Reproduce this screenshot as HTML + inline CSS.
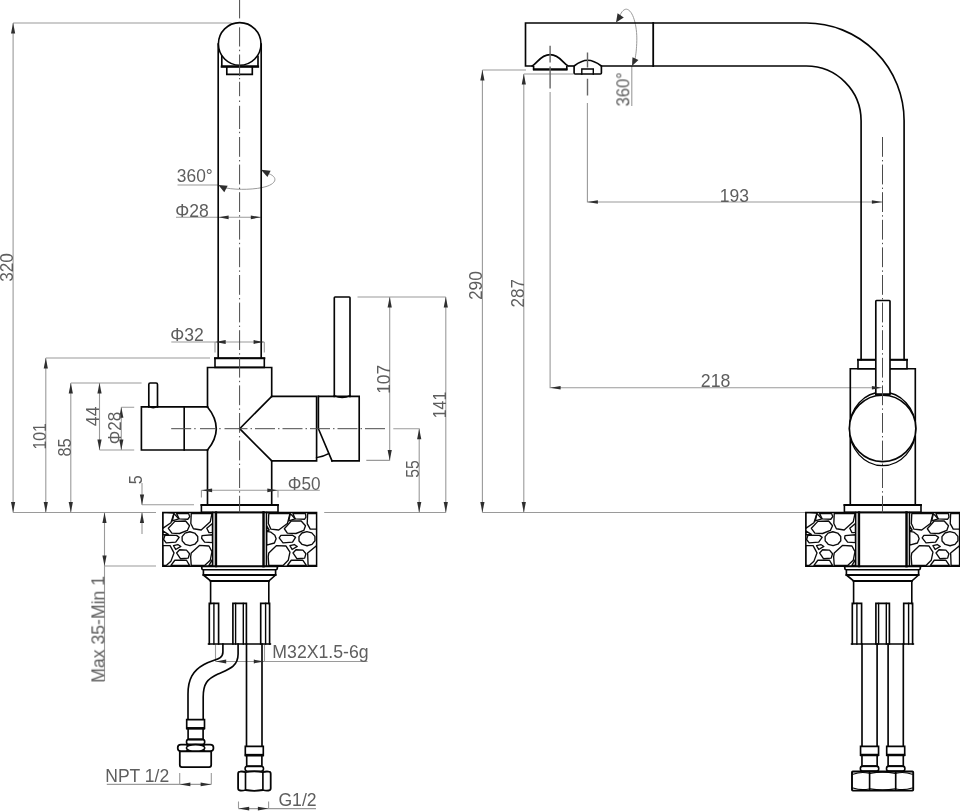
<!DOCTYPE html>
<html lang="en">
<head>
<meta charset="utf-8">
<title>Faucet dimension drawing</title>
<style>
html,body{margin:0;padding:0;background:#fff;}
body{width:960px;height:811px;overflow:hidden;}
svg{display:block;}
</style>
</head>
<body>
<svg width="960" height="811" viewBox="0 0 960 811">
<rect width="960" height="811" fill="#fff"/>
<g fill="none" stroke="#9a9a9a" stroke-width="1.1">
<path d="M13.1,23 V512.5 M13.1,23 H231.5"/>
<path d="M13.1,512.5 H156"/>
<path d="M45.8,358 V512.5 M45.8,358 H210"/>
<path d="M70.8,383 V512.5 M70.8,383 H141.6"/>
<path d="M99.5,383 V450 M99.5,450 H134.2"/>
<path d="M121.3,407.2 V450 M121.3,407.2 H134.2"/>
<path d="M142,483 V505 M142,504.8 H194 M142,512.5 V534"/>
<path d="M104.5,512.5 V681 M104.5,566 H156"/>
<path d="M177.5,185 H218"/>
<path d="M226,188 C238,190.2 256,189.6 266,186.6 C277,183.2 277.6,177 269,173.8" stroke-width="1"/>
<path d="M176,217.3 H261"/>
<path d="M171.3,342 H264.3 M215,342 V352.6 M264.3,342 V352.6"/>
<path d="M201.4,490.3 H319.8 M201.4,490.3 V497.6 M278,490.3 V497.6"/>
<path d="M357.5,297 H445.8 M389.7,297 V460.4 M366.3,460.4 H389.7 M445.8,297 V512.5 M393.3,428.7 H419.2 V512.5 M324.2,512.5 H445.8"/>
<path d="M215.5,644.6 V661.5 M264.5,644.6 V661.5 M215.5,661.5 H367.5"/>
<path d="M106.8,784.4 H211.3 M179.7,773 V784.4 M211.3,773 V784.4"/>
<path d="M238.5,808.6 H316 M238.5,801.4 V808.6 M268.6,801.4 V808.6"/>
<path d="M482.4,70 V512.5 M482.4,70 H526 M523.8,74 V512.5 M523.8,74 H573.4 M482.4,512.5 H805.8"/>
<path d="M550.1,92 V387.7 H882 M587.4,103 V202 H882"/>
<path d="M631.8,66 V106"/>
<path d="M619.6,16.6 C621.5,11 624.5,9 626.5,9.2 C633,10 637.2,26 636.8,40.7 C636.6,49 636,54 635,59" stroke-width="1"/>
</g>
<defs><clipPath id="cl"><rect x="162.8" y="512.4" width="50" height="53.8"/><rect x="266.2" y="512.4" width="50.4" height="53.8"/></clipPath></defs>
<g fill="none" stroke="#0c0c0c" stroke-width="1.35" stroke-linejoin="round" clip-path="url(#cl)">
<g transform="translate(0 0)">
<polygon points="162.75,512.34 173.98,513.2 170.95,522.7 162.75,528.32"/>
<polygon points="173.98,513.64 178.73,518.82 172.25,520.98"/>
<polygon points="176.57,513.64 188.66,513.64 189.78,516.66 187.79,519.25 179.16,518.82"/>
<polygon points="168.36,528.32 174.84,521.41 185.63,520.98 189.52,525.73 187.36,530.47 179.59,533.5 171.82,533.07"/>
<polygon points="191.25,513.64 211.97,513.64 210.25,521.84 201.18,530.04 193.41,528.75 190.82,523.57"/>
<polygon points="206.79,528.32 212.4,523.57 212.4,532.63 208.95,532.63"/>
<polygon points="197.79,540.72 194.87,544.21 190.07,545.59 185.22,544.32 182.19,540.91 182.11,536.64 185.04,533.15 189.84,531.77 194.68,533.03 197.72,536.45"/>
<polygon points="164.91,535.22 176.57,535.4 179.16,537.38 175.7,542.13 166.2,542.82 163.61,539.54"/>
<polygon points="202.04,535.66 212.4,534.79 212.4,542.56 204.63,542.13 201.61,538.25"/>
<polygon points="162.75,545.59 170.09,545.59 173.98,552.93 170.95,561.13 166.2,565.45 162.75,565.45"/>
<polygon points="173.54,545.59 177.86,544.55 180.88,546.45 175.7,549.47"/>
<polygon points="176.57,552.93 179.59,549.73 186.5,550.16 189.52,553.79 188.22,558.11 180.45,558.71"/>
<polygon points="191.25,552.93 199.45,545.41 208.95,546.02 211.97,551.63 210.25,560.27 204.63,565.45 191.25,565.45 190.64,556.81"/>
<polygon points="170.95,565.45 174.84,560.27 186.5,560.27 189.52,565.45"/>
<polygon points="162.75,530.91 168.36,534.36 162.75,534.79"/>
<polygon points="208.95,565.45 212.4,559.4 212.4,565.45"/>
<polygon points="268.79,513.64 289.95,513.64 287.36,523.57 278.73,530.04 270.95,529.18 268.36,523.57"/>
<polygon points="290.38,513.64 295.13,518.82 288.66,520.98"/>
<polygon points="292.97,513.64 305.5,513.64 305.93,517.09 304.63,519.25 295.13,518.82"/>
<polygon points="307.65,513.64 316.72,513.64 316.72,529.18 310.25,529.18 307.22,523.57"/>
<polygon points="284.34,528.75 291.25,520.98 301.18,520.98 305.5,525.73 303.77,530.47 296,533.5 287.36,533.07"/>
<polygon points="314.97,540.77 311.98,544.35 307.08,545.76 302.14,544.47 299.03,540.96 298.96,536.59 301.94,533.01 306.85,531.6 311.79,532.89 314.89,536.4"/>
<polygon points="266.64,531.34 270.95,532.2 274.84,535.22 276.13,538.68 274.41,543 266.64,545.16"/>
<polygon points="279.16,537.82 280.88,535.4 292.54,535.22 295.56,537.38 292.54,542.13 283.04,542.82"/>
<polygon points="289.95,545.59 294.27,544.55 297.29,546.45 292.11,549.47"/>
<polygon points="268.79,552.93 276.57,545.59 286.07,546.02 289.95,552.06 288.22,560.27 283.04,565.45 268.79,565.45 268.19,556.81"/>
<polygon points="292.97,552.93 296,549.73 302.91,550.16 305.93,553.79 304.63,558.11 296.86,558.71"/>
<polygon points="287.36,565.45 291.25,560.27 302.91,560.27 306.36,565.45"/>
<polygon points="307.65,552.93 316.72,545.59 316.72,565.45 308.09,565.45"/>
<polygon points="266.64,525.73 269.23,530.04 266.64,530.91"/>
</g>
</g>
<g transform="translate(643 0)"><g fill="none" stroke="#0c0c0c" stroke-width="1.35" stroke-linejoin="round" clip-path="url(#cl)">
<polygon points="162.75,512.34 173.98,513.2 170.95,522.7 162.75,528.32"/>
<polygon points="173.98,513.64 178.73,518.82 172.25,520.98"/>
<polygon points="176.57,513.64 188.66,513.64 189.78,516.66 187.79,519.25 179.16,518.82"/>
<polygon points="168.36,528.32 174.84,521.41 185.63,520.98 189.52,525.73 187.36,530.47 179.59,533.5 171.82,533.07"/>
<polygon points="191.25,513.64 211.97,513.64 210.25,521.84 201.18,530.04 193.41,528.75 190.82,523.57"/>
<polygon points="206.79,528.32 212.4,523.57 212.4,532.63 208.95,532.63"/>
<polygon points="197.79,540.72 194.87,544.21 190.07,545.59 185.22,544.32 182.19,540.91 182.11,536.64 185.04,533.15 189.84,531.77 194.68,533.03 197.72,536.45"/>
<polygon points="164.91,535.22 176.57,535.4 179.16,537.38 175.7,542.13 166.2,542.82 163.61,539.54"/>
<polygon points="202.04,535.66 212.4,534.79 212.4,542.56 204.63,542.13 201.61,538.25"/>
<polygon points="162.75,545.59 170.09,545.59 173.98,552.93 170.95,561.13 166.2,565.45 162.75,565.45"/>
<polygon points="173.54,545.59 177.86,544.55 180.88,546.45 175.7,549.47"/>
<polygon points="176.57,552.93 179.59,549.73 186.5,550.16 189.52,553.79 188.22,558.11 180.45,558.71"/>
<polygon points="191.25,552.93 199.45,545.41 208.95,546.02 211.97,551.63 210.25,560.27 204.63,565.45 191.25,565.45 190.64,556.81"/>
<polygon points="170.95,565.45 174.84,560.27 186.5,560.27 189.52,565.45"/>
<polygon points="162.75,530.91 168.36,534.36 162.75,534.79"/>
<polygon points="208.95,565.45 212.4,559.4 212.4,565.45"/>
<polygon points="268.79,513.64 289.95,513.64 287.36,523.57 278.73,530.04 270.95,529.18 268.36,523.57"/>
<polygon points="290.38,513.64 295.13,518.82 288.66,520.98"/>
<polygon points="292.97,513.64 305.5,513.64 305.93,517.09 304.63,519.25 295.13,518.82"/>
<polygon points="307.65,513.64 316.72,513.64 316.72,529.18 310.25,529.18 307.22,523.57"/>
<polygon points="284.34,528.75 291.25,520.98 301.18,520.98 305.5,525.73 303.77,530.47 296,533.5 287.36,533.07"/>
<polygon points="314.97,540.77 311.98,544.35 307.08,545.76 302.14,544.47 299.03,540.96 298.96,536.59 301.94,533.01 306.85,531.6 311.79,532.89 314.89,536.4"/>
<polygon points="266.64,531.34 270.95,532.2 274.84,535.22 276.13,538.68 274.41,543 266.64,545.16"/>
<polygon points="279.16,537.82 280.88,535.4 292.54,535.22 295.56,537.38 292.54,542.13 283.04,542.82"/>
<polygon points="289.95,545.59 294.27,544.55 297.29,546.45 292.11,549.47"/>
<polygon points="268.79,552.93 276.57,545.59 286.07,546.02 289.95,552.06 288.22,560.27 283.04,565.45 268.79,565.45 268.19,556.81"/>
<polygon points="292.97,552.93 296,549.73 302.91,550.16 305.93,553.79 304.63,558.11 296.86,558.71"/>
<polygon points="287.36,565.45 291.25,560.27 302.91,560.27 306.36,565.45"/>
<polygon points="307.65,552.93 316.72,545.59 316.72,565.45 308.09,565.45"/>
<polygon points="266.64,525.73 269.23,530.04 266.64,530.91"/>
</g></g>
<g fill="none" stroke="#050505" stroke-width="1.6" stroke-linecap="square" stroke-linejoin="miter">
<circle cx="239.7" cy="43.9" r="21.3"/>
<path d="M218.2,44 V357.6 M261.2,44 V357.6" stroke-width="1.65"/>
<path d="M221.8,56.5 V66.3 H258 V56.5" stroke-width="1.65"/>
<path d="M221.8,66.7 H258" stroke-width="2.2"/>
<path d="M226.8,67 V74.4 H252.3 V67" stroke-width="1.65"/>
<path d="M215,358.3 H264.3 V367.4 H215 Z"/>
<path d="M215,358.2 H264.3" stroke-width="2"/>
<path d="M207.5,406.8 V367.5 H271.7 V396.3 M271.7,460.8 V505 M207.5,450 V505" stroke-width="1.65"/>
<path d="M207.5,406.9 H141.4 V450 H207.5" stroke-width="1.65"/>
<path d="M184.2,406.9 V450" stroke-width="1.65"/>
<path d="M207.5,406.9 Q225,428.5 207.5,450" stroke-width="1.65"/>
<path d="M148.8,407 V384.4 Q148.8,383 150.2,383 H156.1 Q157.5,383 157.5,384.4 V407" stroke-width="1.65"/>
<path d="M148.8,406.2 Q153.2,409.2 157.5,406.2" stroke-width="1.4"/>
<path d="M271.7,396.3 L239.7,428.7 L271.7,460.8" stroke-width="1.65"/>
<path d="M271.7,396.3 H316.6 V460.8 H271.7" stroke-width="1.65"/>
<path d="M318.4,396.3 H359.2 V460.8 H332" stroke-width="1.65"/>
<path d="M318.4,396.3 V428.7 L332,460.8" stroke-width="1.65"/>
<path d="M316.6,457.6 Q323.5,456.6 328.6,453.6" stroke-width="1.4"/>
<path d="M334.3,396.3 V297.8 Q334.3,297 335.1,297 H349.2 Q350,297 350,297.8 V396.3" stroke-width="1.65"/>
<path d="M334.3,395.6 Q342.2,399.6 350,395.6" stroke-width="1.4"/>
<path d="M201.4,505 H278 V512.4 H201.4 Z" fill="#fff"/>
<path d="M201.4,505 H278" stroke-width="1.8"/>
<rect x="212.9" y="512.4" width="2.4" height="53.8" fill="#b4b4b4" stroke="none"/>
<rect x="264.5" y="512.4" width="1.8" height="53.8" fill="#b4b4b4" stroke="none"/>
<path d="M212.6,512.4 V566.2 M266.6,512.4 V566.2" stroke-width="1.2"/>
<path d="M216.1,512.4 V566.2" stroke-width="2.1"/>
<path d="M263.5,512.4 V566.2" stroke-width="2.4"/>
<path d="M201.6,566.4 H277.6" stroke-width="1.8"/>
<path d="M201.8,566.4 V568.6 Q201.8,569.8 203.4,569.8 V575 L210.6,581 H268.8 L275.6,575 V569.8 Q277.3,569.8 277.3,568.6 V566.4" stroke-width="1.65"/>
<path d="M203.4,569.8 H275.6" stroke-width="1.4"/>
<path d="M203.4,575 H275.6" stroke-width="1.8"/>
<path d="M210.6,581 H268.8" stroke-width="1.8"/>
<path d="M210.6,581 V603.4 M268.8,581 V603.4"/>
<path d="M209.3,644 V603.4 H218.6 V644" stroke-width="1.65"/>
<path d="M213.9,603.4 V644" stroke-width="1.4"/>
<path d="M232.9,644 V603.4 H246.4 V644" stroke-width="1.65"/>
<path d="M235.6,603.4 V644 M243.3,603.4 V644" stroke-width="1.4"/>
<path d="M260.7,644 V603.4 H269.6 V644" stroke-width="1.65"/>
<path d="M265.6,603.4 V644" stroke-width="1.4"/>
<path d="M208.6,644 H270.3" stroke-width="1.7"/>
<path d="M162.8,512.4 H316.6 V566.2 H162.8 Z" stroke-width="1.5"/>
<path d="M222.9,644 V652 C222.9,660 214,659 204,664.5 C193,670.5 188,679 188,694 V719.6" stroke-width="1.65"/>
<path d="M238.1,644 V654 C238.1,667 228,669.5 218,674 C207,679 203.2,684 203.2,697 V719.6" stroke-width="1.65"/>
<path d="M246.5,644 V746.4 M262,644 V746.4" stroke-width="1.65"/>
<path d="M186.7,719.6 H204.5 V728.5 H186.7 Z" stroke-width="1.65" fill="#fff"/>
<path d="M186.2,728.3 H205" stroke-width="2.5" stroke-linecap="butt"/>
<path d="M188.1,728.6 V739.6 M203.1,728.6 V739.6" stroke-width="1.65"/>
<rect x="186.5" y="739.4" width="18.2" height="5" rx="2.4" fill="#fff"/>
<path d="M188.6,739.5 H202.6" stroke-width="1.9" stroke-linecap="butt"/>
<rect x="177.7" y="744.7" width="11" height="6.6" rx="3.2" fill="#fff" stroke-width="1.7"/>
<rect x="202.5" y="744.7" width="11" height="6.6" rx="3.2" fill="#fff" stroke-width="1.7"/>
<ellipse cx="195.6" cy="748" rx="9.2" ry="3.4" fill="#fff" stroke-width="1.6"/>
<path d="M179.8,751.4 V765 Q179.8,767 181.8,767 H209.2 Q211.2,767 211.2,765 V751.4 Z" stroke-width="1.75" fill="#fff"/>
<path d="M245.3,746.4 H263.3 V755.3 H245.3 Z" stroke-width="1.65" fill="#fff"/>
<path d="M244.8,755.1 H263.8" stroke-width="2.5" stroke-linecap="butt"/>
<path d="M246.7,755.4 V766.4 M261.9,755.4 V766.4" stroke-width="1.65"/>
<rect x="245.1" y="766.2" width="18.4" height="5" rx="2.4" fill="#fff"/>
<path d="M247.2,766.3 H261.4" stroke-width="1.9" stroke-linecap="butt"/>
<path d="M238.1,773.8 Q238.1,771.7 240.1,771.6 Q242.8,771.2 245.5,772.1 Q254.2,770.5 262.9,772.1 Q265.8,771.2 268.7,771.6 Q270.7,771.7 270.7,773.8 V788.3 Q270.7,790.4 268.7,790.5 Q265.8,790.9 262.9,790 Q254.2,791.6 245.5,790 Q242.8,790.9 240.1,790.5 Q238.1,790.4 238.1,788.3 Z" stroke-width="1.8" fill="#fff"/>
<path d="M245.5,772.4 V789.7" stroke-width="1.65" stroke-linecap="butt"/>
<path d="M262.9,772.4 V789.7" stroke-width="1.65" stroke-linecap="butt"/>
<path d="M601.4,66 H806.3 A54.8,54.8 0 0 1 861.1,120.8 V359.6" stroke-width="1.65"/>
<path d="M532.5,66 H525.5 V23 H806.3 A97.8,97.8 0 0 1 904.1,120.8 V359.6" stroke-width="1.65"/>
<path d="M568.6,66 H574.1" stroke-width="1.65" stroke-linecap="butt"/>
<path d="M653.2,23 V66" stroke-width="1.8"/>
<path d="M532.2,66 C537,63.6 540.5,54.7 550.1,54.7 C559.7,54.7 563.2,63.6 568.2,66" stroke-width="1.65"/>
<path d="M533.6,66 V69.4 H566.8 V66" stroke-width="1.65" stroke-linecap="butt"/>
<path d="M533,69.5 H567.4" stroke-width="2.2" stroke-linecap="butt"/>
<path d="M574.1,66 V73 Q574.1,74 575.1,74 H600.4 Q601.4,74 601.4,73 V66 C597,62.8 593,60.3 587.7,60.3 C582.4,60.3 578.4,62.8 574.1,66" stroke-width="1.65" stroke-linecap="butt"/>
<path d="M581.8,74 V69 H593.3 V74" stroke-width="1.4"/>
<path d="M858,359.8 H907 V368.7 H858 Z"/>
<path d="M858,359.7 H907" stroke-width="2"/>
<path d="M850.3,368.7 H915.3 V504.8 H850.3 Z" stroke-width="1.65"/>
<ellipse cx="882.6" cy="428.8" rx="33.2" ry="36.8" fill="#fff" stroke-width="1.3"/>
<circle cx="882.6" cy="428.4" r="33.2" fill="#fff" stroke-width="1.6"/>
<path d="M875.8,394.4 V301.2 Q875.8,300.5 876.5,300.5 H889.3 Q890,300.5 890,301.2 V394.4 Z" stroke-width="1.65" fill="#fff" stroke-linecap="butt"/>
<path d="M875.8,394.6 H890" stroke-width="2.2" stroke-linecap="butt"/>
<path d="M844.4,505 H921 V512.4 H844.4 Z" fill="#fff"/>
<path d="M844.4,505 H921" stroke-width="1.8"/>
<rect x="855.9" y="512.4" width="2.4" height="53.8" fill="#b4b4b4" stroke="none"/>
<rect x="907.5" y="512.4" width="1.8" height="53.8" fill="#b4b4b4" stroke="none"/>
<path d="M855.6,512.4 V566.2 M909.6,512.4 V566.2" stroke-width="1.2"/>
<path d="M859.1,512.4 V566.2" stroke-width="2.1"/>
<path d="M906.5,512.4 V566.2" stroke-width="2.4"/>
<path d="M844.6,566.4 H920.6" stroke-width="1.8"/>
<path d="M844.8,566.4 V568.6 Q844.8,569.8 846.4,569.8 V575 L853.6,581 H911.8 L918.6,575 V569.8 Q920.3,569.8 920.3,568.6 V566.4" stroke-width="1.65"/>
<path d="M846.4,569.8 H918.6" stroke-width="1.4"/>
<path d="M846.4,575 H918.6" stroke-width="1.8"/>
<path d="M853.6,581 H911.8" stroke-width="1.8"/>
<path d="M853.6,581 V603.4 M911.8,581 V603.4"/>
<path d="M852.3,644 V603.4 H861.6 V644" stroke-width="1.65"/>
<path d="M856.9,603.4 V644" stroke-width="1.4"/>
<path d="M875.9,644 V603.4 H889.4 V644" stroke-width="1.65"/>
<path d="M878.6,603.4 V644 M886.3,603.4 V644" stroke-width="1.4"/>
<path d="M903.7,644 V603.4 H912.6 V644" stroke-width="1.65"/>
<path d="M908.6,603.4 V644" stroke-width="1.4"/>
<path d="M851.6,644 H913.3" stroke-width="1.7"/>
<path d="M805.8,512.4 H959.6 V566.2 H805.8 Z" stroke-width="1.5"/>
<path d="M862,644 V746.3 M877.1,644 V746.3 M888.1,644 V746.3 M903.3,644 V746.3" stroke-width="1.65"/>
<path d="M860.55,746.3 H878.55 V755.2 H860.55 Z" stroke-width="1.65" fill="#fff"/>
<path d="M860.05,755 H879.05" stroke-width="2.5" stroke-linecap="butt"/>
<path d="M861.95,755.3 V766.3 M877.15,755.3 V766.3" stroke-width="1.65"/>
<rect x="860.35" y="766.1" width="18.4" height="5" rx="2.4" fill="#fff"/>
<path d="M862.45,766.2 H876.65" stroke-width="1.9" stroke-linecap="butt"/>
<path d="M886.7,746.3 H904.7 V755.2 H886.7 Z" stroke-width="1.65" fill="#fff"/>
<path d="M886.2,755 H905.2" stroke-width="2.5" stroke-linecap="butt"/>
<path d="M888.1,755.3 V766.3 M903.3,755.3 V766.3" stroke-width="1.65"/>
<rect x="886.5" y="766.1" width="18.4" height="5" rx="2.4" fill="#fff"/>
<path d="M888.6,766.2 H902.8" stroke-width="1.9" stroke-linecap="butt"/>
<rect x="852" y="771.5" width="61.2" height="19.1" rx="0.8" fill="#fff" stroke-width="1.9"/>
<path d="M869.6,772 V790 M895.7,772 V790" stroke-width="1.65" stroke-linecap="butt"/>
<path d="M853,774.2 Q861,771.4 869.2,773.2 M870,773.4 Q882.6,771 895.3,773.4 M896.1,773.2 Q904,771.4 912.2,774.2" stroke-width="1.2"/>
<path d="M853,788 Q861,790.6 869.2,789 M870,788.8 Q882.6,791 895.3,788.8 M896.1,789 Q904,790.6 912.2,788" stroke-width="1.2"/>
</g>
<g fill="none" stroke="#4a4a4a" stroke-width="1">
<path d="M239.6,0 V512.4" stroke-dasharray="18.4 8.9 19.2 3.2 1.5 3.3 21.5 2 1.3 2.5 14.4 4.3 1.5 3.8 23.2 2.8 1.4 3.8 19.8 3.2 1.4 3.2 19.8 3.2 1.4 3.2 19.8 3.2 1.4 3.2 19.8 3.2 1.4 3.2 19.8 3.2 1.4 3.2 19.8 3.2 1.4 3.2 19.8 3.2 1.4 3.2 19.8 3.2 1.4 3.2 19.8 3.2 1.4 3.2 19.8 3.2 1.4 3.2 19.8 3.2 1.4 3.2 19.8 3.2 1.4 3.2 19.8 3.2 1.4 3.2 19.8 3.2 1.4 3.2"/>
<path d="M171.2,428.7 H385" stroke-dasharray="20 3 1.5 4.3 16.2 3 1.5 3.8 23 3 1.5 3 20 3 1.5 3 20 3 1.5 3 20 3 1.5 3 20 3 1.5 3 20 3 1.5 3"/>
<path d="M882.5,137 V512.4" stroke-dasharray="19.8 3.2 1.4 3.2"/>
<path d="M550.1,45.8 V88.4" stroke-dasharray="16.6 4.2 21.8" stroke="#666" stroke-width="1.4"/>
<path d="M587.5,52.5 V95.4" stroke-dasharray="15 11.3 16.6" stroke="#666" stroke-width="1.4"/>
</g>
<g fill="#2e2e2e" stroke="none">
<polygon points="13.1,23 11,33.5 15.2,33.5"/>
<polygon points="13.1,512.5 11,502 15.2,502"/>
<polygon points="45.8,358 43.7,368.5 47.9,368.5"/>
<polygon points="45.8,512.5 43.7,502 47.9,502"/>
<polygon points="70.8,383 68.7,393.5 72.9,393.5"/>
<polygon points="70.8,512.5 68.7,502 72.9,502"/>
<polygon points="99.5,383 97.4,393.5 101.6,393.5"/>
<polygon points="99.5,450 97.4,439.5 101.6,439.5"/>
<polygon points="121.3,407.2 119.2,417.7 123.4,417.7"/>
<polygon points="121.3,450 119.2,439.5 123.4,439.5"/>
<polygon points="142,505 139.9,494.5 144.1,494.5"/>
<polygon points="142,512.5 139.9,523 144.1,523"/>
<polygon points="104.5,512.5 102.4,523 106.6,523"/>
<polygon points="104.5,566 102.4,555.5 106.6,555.5"/>
<polygon points="218.4,185 227.68,185.86 224.3,192.22"/>
<polygon points="261,169.8 270.61,170.77 267.43,177"/>
<polygon points="218.6,217.3 228.6,215.4 228.6,219.2"/>
<polygon points="260.8,217.3 250.8,215.4 250.8,219.2"/>
<polygon points="215.2,342 225.7,340.1 225.7,343.9"/>
<polygon points="264.1,342 253.6,340.1 253.6,343.9"/>
<polygon points="201.6,490.3 212.1,488.4 212.1,492.2"/>
<polygon points="277.8,490.3 267.3,488.4 267.3,492.2"/>
<polygon points="389.7,297 387.6,307.5 391.8,307.5"/>
<polygon points="389.7,460.4 387.6,449.9 391.8,449.9"/>
<polygon points="445.8,297 443.7,307.5 447.9,307.5"/>
<polygon points="445.8,512.5 443.7,502 447.9,502"/>
<polygon points="419.2,428.7 417.1,439.2 421.3,439.2"/>
<polygon points="419.2,512.5 417.1,502 421.3,502"/>
<polygon points="215.7,661.5 226.2,659.6 226.2,663.4"/>
<polygon points="264.3,661.5 253.8,659.6 253.8,663.4"/>
<polygon points="179.9,784.4 190.4,782.5 190.4,786.3"/>
<polygon points="211.1,784.4 200.6,782.5 200.6,786.3"/>
<polygon points="238.7,808.6 249.2,806.7 249.2,810.5"/>
<polygon points="268.4,808.6 257.9,806.7 257.9,810.5"/>
<polygon points="482.4,70 480.3,80.5 484.5,80.5"/>
<polygon points="482.4,512.5 480.3,502 484.5,502"/>
<polygon points="523.8,74 521.7,84.5 525.9,84.5"/>
<polygon points="523.8,512.5 521.7,502 525.9,502"/>
<polygon points="550.1,387.7 560.6,386 560.6,389.4"/>
<polygon points="882.4,387.7 871.9,386 871.9,389.4"/>
<polygon points="587.4,202 597.9,200.3 597.9,203.7"/>
<polygon points="882.4,202 871.9,200.3 871.9,203.7"/>
<polygon points="616,22.6 617.58,13.37 623.79,17.4"/>
<polygon points="632,66 632.47,57.17 638.46,59.96"/>
</g>
<g opacity="0.999" fill="#5e5e5e" font-family="'Liberation Sans', Arial, sans-serif" font-size="18.2">
<text transform="translate(12.9 281.85) rotate(-90)" textLength="28.73" lengthAdjust="spacingAndGlyphs">320</text>
<text transform="translate(45.6 449.5) rotate(-90)" textLength="26.28" lengthAdjust="spacingAndGlyphs">101</text>
<text transform="translate(70.6 456.5) rotate(-90)" textLength="18.2" lengthAdjust="spacingAndGlyphs">85</text>
<text transform="translate(99.3 426.21) rotate(-90)" textLength="19.73" lengthAdjust="spacingAndGlyphs">44</text>
<text transform="translate(121.1 444.27) rotate(-90)" textLength="32.5" lengthAdjust="spacingAndGlyphs">&#934;28</text>
<text transform="translate(141.8 484.35) rotate(-90)" textLength="9.03" lengthAdjust="spacingAndGlyphs">5</text>
<text transform="translate(104.4 682.75) rotate(-90)" textLength="106.91" lengthAdjust="spacingAndGlyphs">Max 35-Min 1</text>
<text x="176.84" y="181.7" textLength="35.91" lengthAdjust="spacingAndGlyphs">360&#176;</text>
<text x="175.2" y="217" textLength="33.56" lengthAdjust="spacingAndGlyphs">&#934;28</text>
<text x="170.3" y="341.3" textLength="33.58" lengthAdjust="spacingAndGlyphs">&#934;32</text>
<text x="287.72" y="489.9" textLength="32.75" lengthAdjust="spacingAndGlyphs">&#934;50</text>
<text transform="translate(389.5 393.82) rotate(-90)" textLength="28.89" lengthAdjust="spacingAndGlyphs">107</text>
<text transform="translate(445.5 418.21) rotate(-90)" textLength="26.49" lengthAdjust="spacingAndGlyphs">141</text>
<text transform="translate(419.1 477.63) rotate(-90)" textLength="17.49" lengthAdjust="spacingAndGlyphs">55</text>
<text x="272.35" y="657.5" textLength="96.28" lengthAdjust="spacingAndGlyphs">M32X1.5-6g</text>
<text x="105.26" y="782" textLength="63.91" lengthAdjust="spacingAndGlyphs">NPT 1/2</text>
<text x="278.42" y="806.4" textLength="38.16" lengthAdjust="spacingAndGlyphs">G1/2</text>
<text transform="translate(482.1 300.07) rotate(-90)" textLength="29.06" lengthAdjust="spacingAndGlyphs">290</text>
<text transform="translate(523.6 307.55) rotate(-90)" textLength="28.41" lengthAdjust="spacingAndGlyphs">287</text>
<text x="700.81" y="387.4" textLength="29.66" lengthAdjust="spacingAndGlyphs">218</text>
<text x="719.87" y="201.7" textLength="29.21" lengthAdjust="spacingAndGlyphs">193</text>
<text transform="translate(629.3 106.43) rotate(-90)" textLength="34.23" lengthAdjust="spacingAndGlyphs">360&#176;</text>
</g>
</svg>
</body>
</html>
